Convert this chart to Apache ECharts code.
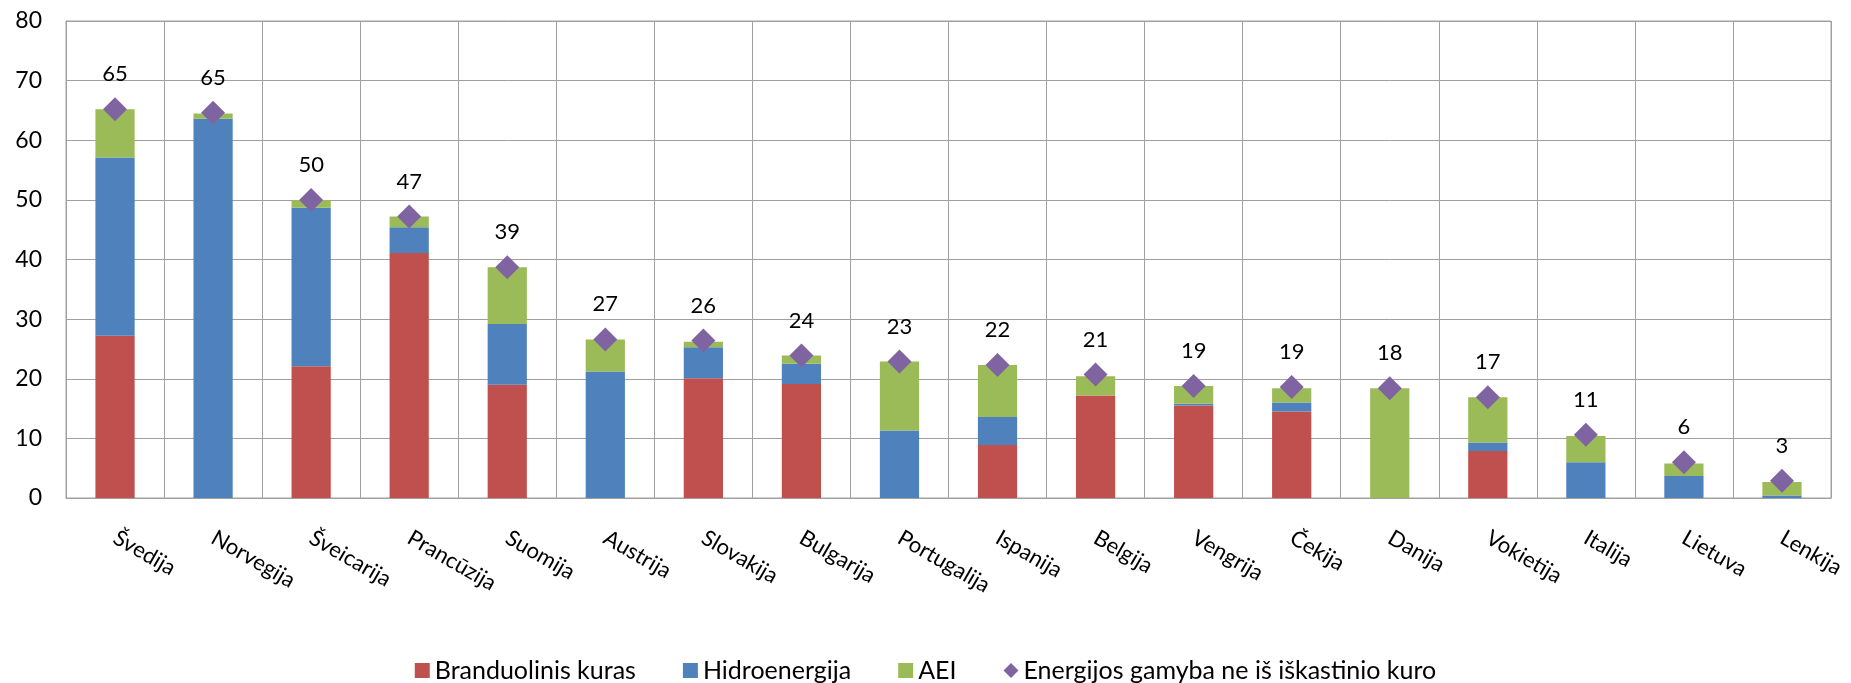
<!DOCTYPE html>
<html>
<head>
<meta charset="utf-8">
<script src="https://cdn.jsdelivr.net/npm/echarts@6/dist/echarts.min.js"></script>
<style>
html,body{margin:0;padding:0;background:#fff;}
#chart{width:1851px;height:683px;}
</style>
</head>
<body>
<div id="chart"></div>
<script>
const categories = ['Švedija','Norvegija','Šveicarija','Prancūzija','Suomija','Austrija','Slovakija','Bulgarija','Portugalija','Ispanija','Belgija','Vengrija','Čekija','Danija','Vokietija','Italija','Lietuva','Lenkija'];
const nuclear = [27.2, 0, 22.1, 41.1, 19.0, 0, 20.1, 19.1, 0, 8.9, 17.2, 15.5, 14.5, 0, 7.9, 0, 0, 0];
const hydro = [29.9, 63.6, 26.6, 4.3, 10.2, 21.2, 5.2, 3.4, 11.3, 4.7, 0, 0.3, 1.5, 0, 1.4, 6.0, 3.7, 0.4];
const aei = [8.1, 0.9, 1.3, 1.8, 9.5, 5.4, 0.9, 1.4, 11.6, 8.7, 3.2, 3.0, 2.4, 18.4, 7.6, 4.4, 2.1, 2.3];
const nonFossil = [65.2, 64.6, 50.0, 47.2, 38.7, 26.6, 26.4, 23.9, 22.9, 22.3, 20.7, 18.8, 18.6, 18.4, 16.9, 10.6, 6.0, 2.9];
const yTicks = [0, 10, 20, 30, 40, 50, 60, 70, 80];

const FONT = 'Lato, "Noto Sans", sans-serif';
const chart = echarts.init(document.getElementById('chart'));
chart.setOption({
  animation: false,
  textStyle: {fontFamily: FONT},
  grid: {left: 66, right: 20, top: 21, bottom: 185, containLabel: false,
         show: true, borderColor: '#a0a0a0', borderWidth: 1},
  legend: {
    bottom: -5, left: 'center', itemGap: 47, itemWidth: 15, itemHeight: 15,
    textStyle: {fontSize: 25, color: '#000', fontFamily: FONT},
    data: [
      {name: 'Branduolinis kuras', icon: 'rect'},
      {name: 'Hidroenergija', icon: 'rect'},
      {name: 'AEI', icon: 'rect'},
      {name: 'Energijos gamyba ne iš iškastinio kuro', icon: 'diamond'}
    ]
  },
  xAxis: {
    type: 'category', data: categories,
    axisLine: {show: true, lineStyle: {color: '#a0a0a0'}},
    axisTick: {show: false},
    splitLine: {show: true, lineStyle: {color: '#a0a0a0', width: 1}},
    axisLabel: {rotate: -30, margin: 38, fontSize: 22, color: '#000', fontFamily: FONT, interval: 0}
  },
  yAxis: {
    type: 'value', min: yTicks[0], max: yTicks[yTicks.length-1], interval: 10,
    axisLine: {show: true, lineStyle: {color: '#a0a0a0'}},
    axisTick: {show: false},
    splitLine: {show: true, lineStyle: {color: '#a0a0a0', width: 1}},
    axisLabel: {fontSize: 23, color: '#000', margin: 24, fontFamily: FONT}
  },
  series: [
    {name: 'Branduolinis kuras', type: 'bar', stack: 'a', data: nuclear, barWidth: '40%', itemStyle: {color: '#C0504D'}},
    {name: 'Hidroenergija', type: 'bar', stack: 'a', data: hydro, barWidth: '40%', itemStyle: {color: '#4F81BD'}},
    {name: 'AEI', type: 'bar', stack: 'a', data: aei, barWidth: '40%', itemStyle: {color: '#9BBB59'}},
    {name: 'Energijos gamyba ne iš iškastinio kuro', type: 'scatter', data: nonFossil,
     symbol: 'diamond', symbolSize: [24, 24], itemStyle: {color: '#8064A2', opacity: 1}, z: 5,
     label: {show: true, position: 'top', distance: 12, fontSize: 22, color: '#000', fontFamily: FONT,
             formatter: p => Math.round(p.value)}}
  ]
});
</script>
</body>
</html>
